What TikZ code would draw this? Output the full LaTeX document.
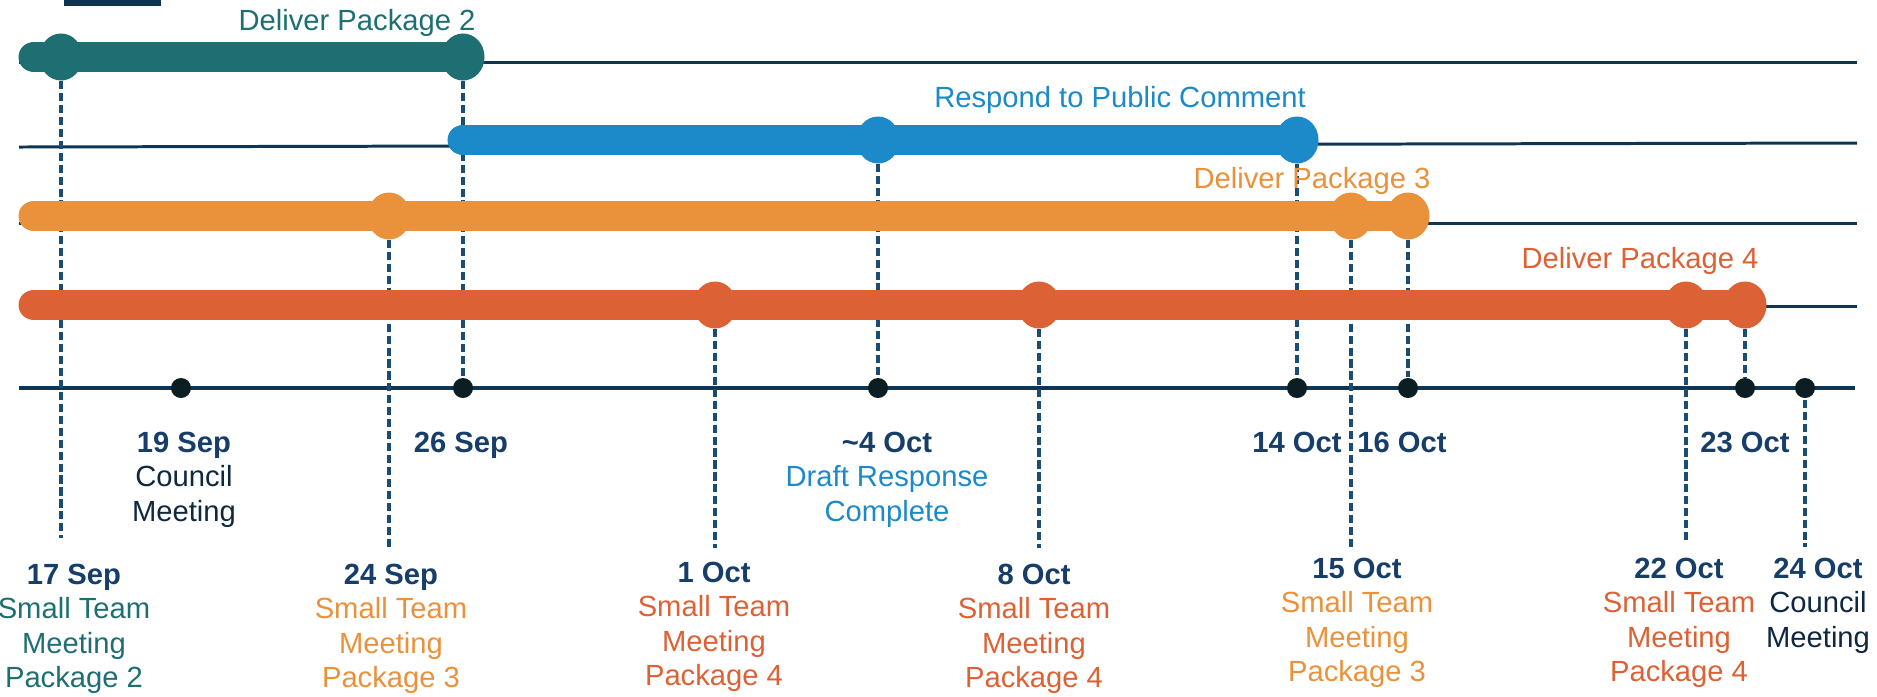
\documentclass[tikz,border=0pt]{standalone}
\usepackage{fontspec}
\setmainfont{Liberation Sans}
\usetikzlibrary{shapes.geometric,backgrounds}

\definecolor{tealC}{RGB}{29,111,114}
\definecolor{blueC}{RGB}{28,137,200}
\definecolor{orangeC}{RGB}{234,145,59}
\definecolor{redC}{RGB}{220,97,53}
\definecolor{navyC}{RGB}{15,52,84}
\definecolor{dateC}{RGB}{22,62,104}
\definecolor{councilC}{RGB}{14,40,64}
\definecolor{dotC}{RGB}{11,30,35}
\definecolor{dashC}{RGB}{26,76,116}

\newcommand{\daylbl}[1]{\textcolor{dateC}{\bfseries #1}}

\begin{document}
\begin{tikzpicture}[x=0.01cm, y=-0.01cm,
    font=\fontsize{8.3}{9.8}\selectfont,
    row/.style={navyC, line width=0.85pt},
    bar/.style={#1, line width=8.8pt, line cap=round},
    guide/.style={dashC, line width=0.9pt, dash pattern=on 2.3pt off 1.1pt},
    mile/.style={ellipse, fill=#1, inner sep=0pt, minimum width=0.43cm, minimum height=0.47cm},
    dot/.style={circle, fill=dotC, inner sep=0pt, minimum size=0.2cm},
    lbl/.style={align=center, anchor=north, inner sep=0pt, text=#1},
    barlbl/.style={anchor=base, inner sep=0pt, text=#1}]
    \useasboundingbox (0,0) rectangle (1877,696);

    \fill[navyC] (64,0) rectangle (161,6);

    % milestones on the bars
    \node[mile=tealC] (t1) at (61,57) {};
    \node[mile=tealC] (t2) at (463,57) {};
    \node[mile=blueC] (b1) at (878,140) {};
    \node[mile=blueC] (b2) at (1297,140) {};
    \node[mile=orangeC] (o1) at (389,216) {};
    \node[mile=orangeC] (o2) at (1351,216) {};
    \node[mile=orangeC] (o3) at (1408,216) {};
    \node[mile=redC] (r1) at (715,305) {};
    \node[mile=redC] (r2) at (1039,305) {};
    \node[mile=redC] (r3) at (1686,305) {};
    \node[mile=redC] (r4) at (1745,305) {};

    \coordinate (tS) at (34,57);
    \coordinate (bS) at (463,140);
    \coordinate (oS) at (34,216);
    \coordinate (rS) at (34,305);

    % time axis
    \coordinate (aS) at (19,388);
    \coordinate (aE) at (1855,388);
    \node[dot] (dSep19) at (181,388) {};
    \node[dot] (dSep26) at (463,388) {};
    \node[dot] (dOct4) at (878,388) {};
    \node[dot] (dOct14) at (1297,388) {};
    \node[dot] (dOct16) at (1408,388) {};
    \node[dot] (dOct23) at (1745,388) {};
    \node[dot] (dOct24) at (1805,388) {};

    \coordinate (eSep17) at (61,538);
    \coordinate (eSep24) at (389,548);
    \coordinate (eOct1) at (715,548);
    \coordinate (eOct8) at (1039,548);
    \coordinate (eOct15) at (1351,550);
    \coordinate (eOct22) at (1686,540);
    \coordinate (eOct24) at (1805,547);

    \begin{pgfonlayer}{background}
        \draw[row] (19,62) -- (1857,62);
        \draw[row] (19,147) -- (1857,143);
        \draw[row] (19,223) -- (1857,223);
        \draw[row] (19,306) -- (1857,306);
        \draw[navyC, line width=1.1pt] (aS) -- (aE);

        \draw[guide] (t1.center) -- (eSep17);
        \draw[guide] (t2.center) -- (dSep26);
        \draw[guide] (o1.center) -- (eSep24);
        \draw[guide] (b1.center) -- (dOct4);
        \draw[guide] (r1.center) -- (eOct1);
        \draw[guide] (r2.center) -- (eOct8);
        \draw[guide] (b2.center) -- (dOct14);
        \draw[guide] (o2.center) -- (eOct15);
        \draw[guide] (o3.center) -- (dOct16);
        \draw[guide] (r3.center) -- (eOct22);
        \draw[guide] (r4.center) -- (dOct23);
        \draw[guide] (dOct24.center) -- (eOct24);

        \draw[bar=tealC] (tS) -- (t2.center);
        \draw[bar=blueC] (bS) -- (b2.center);
        \draw[bar=orangeC] (oS) -- (o3.center);
        \draw[bar=redC] (rS) -- (r4.center);
    \end{pgfonlayer}

    % task names
    \node[barlbl=tealC] (nPkg2) at (357,30) {Deliver Package 2};
    \node[barlbl=blueC] (nResp) at (1120,107) {Respond to Public Comment};
    \node[barlbl=orangeC] (nPkg3) at (1312,188) {Deliver Package 3};
    \node[barlbl=redC] (nPkg4) at (1640,268) {Deliver Package 4};

    % dates above
    \node[lbl=councilC] (lSep19) at (184,431) {\daylbl{19 Sep}\\Council\\Meeting};
    \node[lbl=dateC] (lSep26) at (461,431) {\daylbl{26 Sep}};
    \node[lbl=blueC] (lOct4) at (887,431) {\daylbl{\textasciitilde4 Oct}\\Draft Response\\Complete};
    \node[lbl=dateC] (lOct14) at (1297,431) {\daylbl{14 Oct}};
    \node[lbl=dateC] (lOct16) at (1402,431) {\daylbl{16 Oct}};
    \node[lbl=dateC] (lOct23) at (1745,431) {\daylbl{23 Oct}};

    % dates below
    \node[lbl=tealC] (lSep17) at (74,563) {\daylbl{17 Sep}\\Small Team\\Meeting\\Package 2};
    \node[lbl=orangeC] (lSep24) at (391,563) {\daylbl{24 Sep}\\Small Team\\Meeting\\Package 3};
    \node[lbl=redC] (lOct1) at (714,561) {\daylbl{1 Oct}\\Small Team\\Meeting\\Package 4};
    \node[lbl=redC] (lOct8) at (1034,563) {\daylbl{8 Oct}\\Small Team\\Meeting\\Package 4};
    \node[lbl=orangeC] (lOct15) at (1357,557) {\daylbl{15 Oct}\\Small Team\\Meeting\\Package 3};
    \node[lbl=redC] (lOct22) at (1679,557) {\daylbl{22 Oct}\\Small Team\\Meeting\\Package 4};
    \node[lbl=councilC] (lOct24) at (1818,557) {\daylbl{24 Oct}\\Council\\Meeting};
\end{tikzpicture}
\end{document}
